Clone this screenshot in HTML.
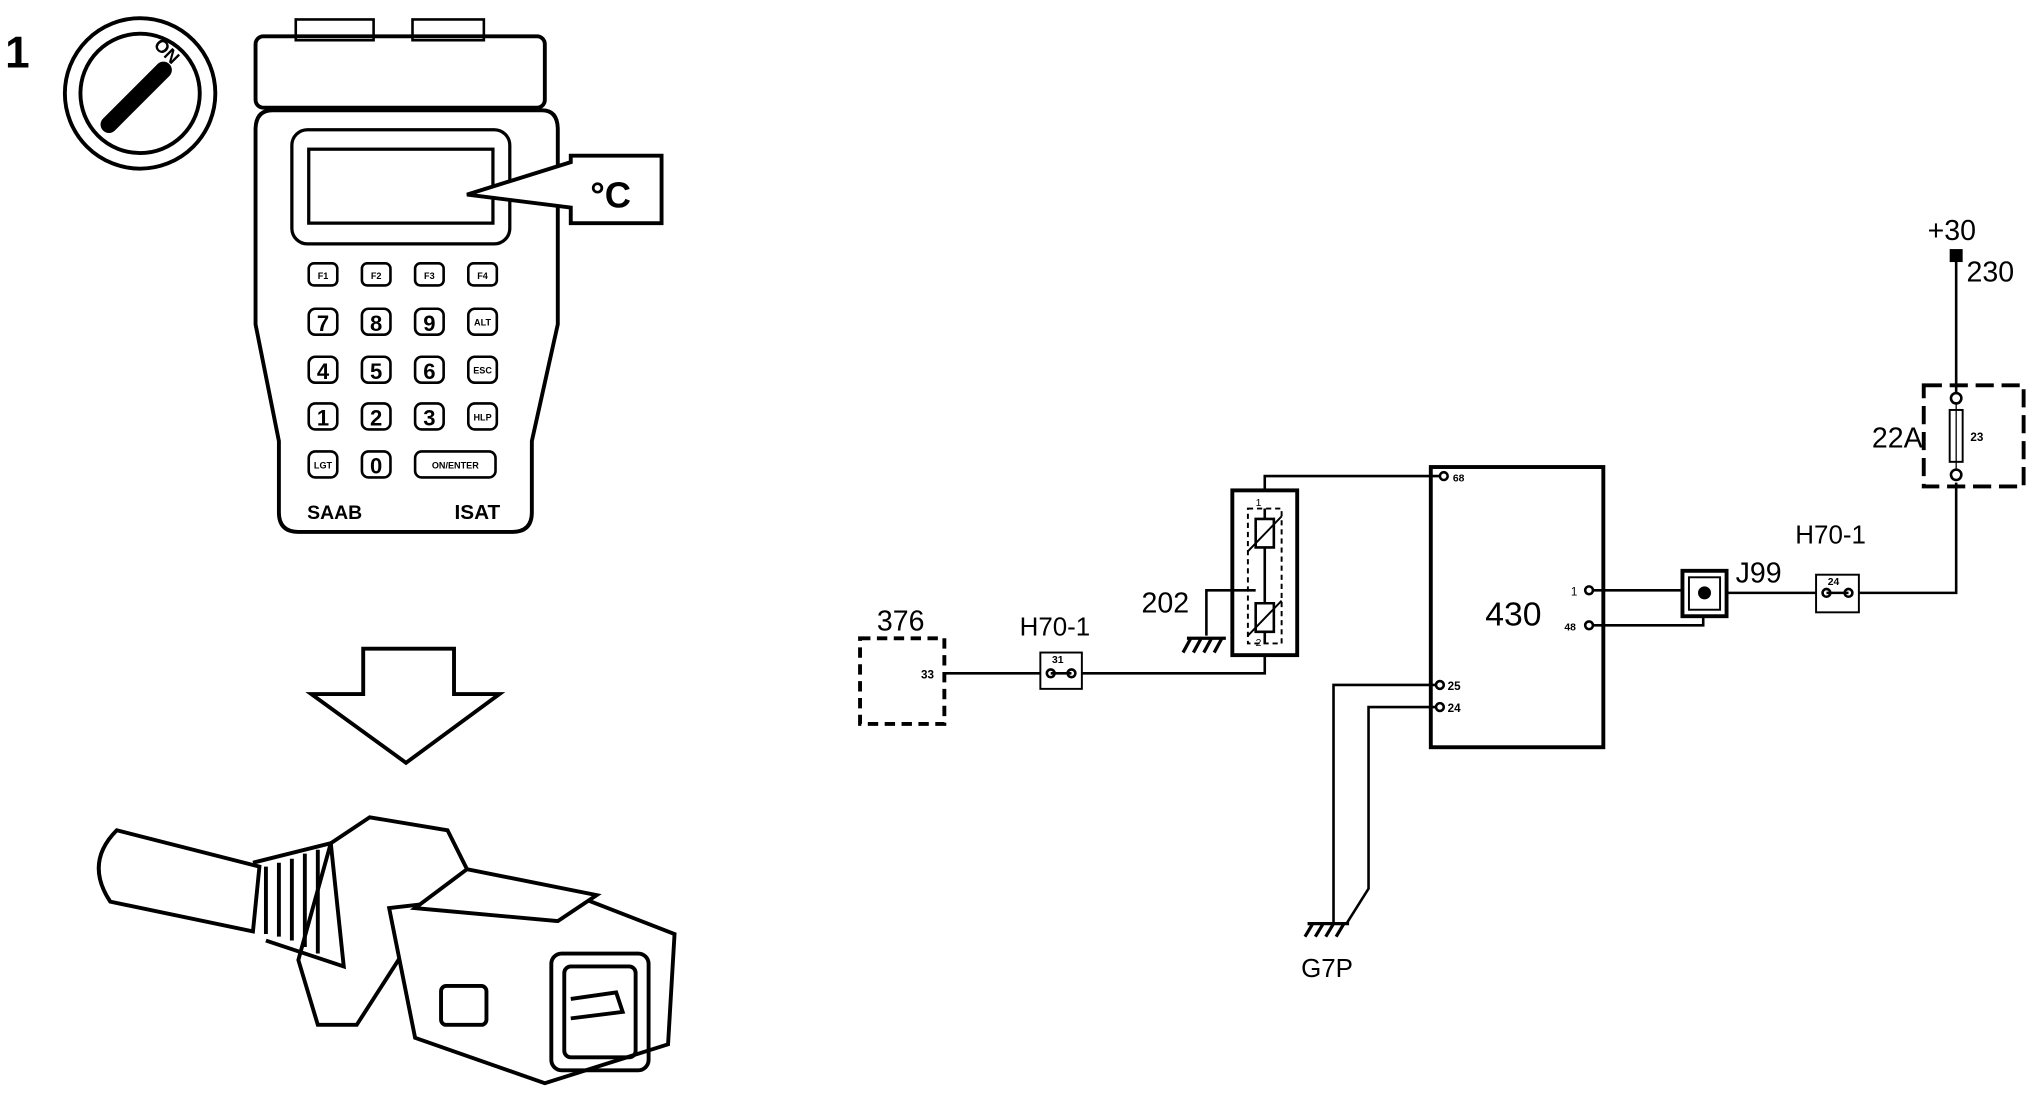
<!DOCTYPE html>
<html><head><meta charset="utf-8"><style>
html,body{margin:0;padding:0;background:#fff;}
svg{display:block}
text{font-family:"Liberation Sans",sans-serif;fill:#000}
</style></head><body>
<svg width="2034" height="1104" viewBox="0 0 1568 851" preserveAspectRatio="none" xmlns="http://www.w3.org/2000/svg">
<g stroke="#000" fill="none" stroke-width="2">
<text x="4" y="52" font-size="34" font-weight="bold" stroke="none">1</text>
<circle cx="108" cy="72" r="58" stroke-width="3"/>
<circle cx="108" cy="72" r="46" stroke-width="3"/>
<line x1="84" y1="96" x2="126" y2="54" stroke-width="13" stroke-linecap="round"/>
<text x="128" y="44" font-size="14" font-weight="bold" stroke="none" text-anchor="middle" transform="rotate(45 128 40)">ON</text>
<rect x="197" y="28" width="223" height="55" rx="6" stroke-width="3"/>
<rect x="228" y="15" width="60" height="16" stroke-width="2"/>
<rect x="318" y="15" width="55" height="16" stroke-width="2"/>
<path d="M210 85 H418 Q430 85 430 100 V250 L410 340 V395 Q410 410 395 410 H230 Q215 410 215 395 V340 L197 250 V100 Q197 85 210 85 Z" stroke-width="3"/>
<rect x="225" y="100" width="168" height="88" rx="12" stroke-width="2.5"/>
<rect x="238" y="115" width="142" height="57" stroke-width="2.5"/>
<path d="M360 150 L440 125 V120 H510 V172 H440 V160 Z" stroke-width="3" fill="#fff"/>
<text x="455" y="160" font-size="28" font-weight="bold" stroke="none">°C</text>
<g stroke-width="2">
<rect x="238" y="203" width="22" height="17" rx="4"/><rect x="279" y="203" width="22" height="17" rx="4"/><rect x="320" y="203" width="22" height="17" rx="4"/><rect x="361" y="203" width="22" height="17" rx="4"/>
<rect x="238" y="238" width="22" height="20" rx="5"/><rect x="279" y="238" width="22" height="20" rx="5"/><rect x="320" y="238" width="22" height="20" rx="5"/><rect x="361" y="238" width="22" height="20" rx="5"/>
<rect x="238" y="275" width="22" height="20" rx="5"/><rect x="279" y="275" width="22" height="20" rx="5"/><rect x="320" y="275" width="22" height="20" rx="5"/><rect x="361" y="275" width="22" height="20" rx="5"/>
<rect x="238" y="311" width="22" height="20" rx="5"/><rect x="279" y="311" width="22" height="20" rx="5"/><rect x="320" y="311" width="22" height="20" rx="5"/><rect x="361" y="311" width="22" height="20" rx="5"/>
<rect x="238" y="348" width="22" height="20" rx="5"/><rect x="279" y="348" width="22" height="20" rx="5"/><rect x="320" y="348" width="62" height="20" rx="5"/>
</g>
<g stroke="none" font-weight="bold" text-anchor="middle">
<text x="249" y="215" font-size="7">F1</text><text x="290" y="215" font-size="7">F2</text><text x="331" y="215" font-size="7">F3</text><text x="372" y="215" font-size="7">F4</text>
<text x="249" y="255" font-size="17">7</text><text x="290" y="255" font-size="17">8</text><text x="331" y="255" font-size="17">9</text><text x="372" y="251" font-size="7">ALT</text>
<text x="249" y="292" font-size="17">4</text><text x="290" y="292" font-size="17">5</text><text x="331" y="292" font-size="17">6</text><text x="372" y="288" font-size="7">ESC</text>
<text x="249" y="328" font-size="17">1</text><text x="290" y="328" font-size="17">2</text><text x="331" y="328" font-size="17">3</text><text x="372" y="324" font-size="7">HLP</text>
<text x="249" y="361" font-size="7">LGT</text><text x="290" y="365" font-size="17">0</text><text x="351" y="361" font-size="7">ON/ENTER</text>
<text x="258" y="400" font-size="15">SAAB</text><text x="368" y="400" font-size="16">ISAT</text>
</g>
<path d="M280 500 H350 V535 H385 L313 588 L240 535 H280 Z" stroke-width="3"/>
<g stroke-width="3">
<path d="M90 640 L200 668 L195 718 L85 695 Q65 665 90 640 Z"/>
<path d="M195 665 L255 650 L265 745 L205 725"/>
<path d="M205 668 V720 M215 665 V722 M225 662 V725 M235 658 V730 M245 655 V735"/>
<path d="M255 650 L285 630 L345 640 L370 690 L320 720 L275 790 L245 790 L230 740 Z"/>
<path d="M300 700 L430 685 L520 720 L515 805 L420 835 L320 800 Z" fill="#fff"/>
<path d="M320 700 L360 670 L460 690 L430 710 Z" fill="#fff"/>
<rect x="425" y="735" width="75" height="90" rx="8"/>
<rect x="435" y="745" width="55" height="70" rx="5"/>
<path d="M440 770 L475 765 L480 780 L440 785"/>
<rect x="340" y="760" width="35" height="30" rx="4"/>
</g>
</g>
<g stroke="#000" fill="none" stroke-width="2">
<rect x="663" y="492" width="65" height="66" stroke-width="3" stroke-dasharray="8,5"/>
<line x1="728" y1="519" x2="802" y2="519"/>
<rect x="802" y="503" width="32" height="28" stroke-width="1.5"/>
<circle cx="810" cy="519" r="3"/><circle cx="826" cy="519" r="3"/><line x1="810" y1="519" x2="826" y2="519"/>
<polyline points="834,519 975,519 975,505"/>
<rect x="950" y="378" width="50" height="127" stroke-width="3"/>
<polyline points="975,378 975,367 1110,367"/>
<rect x="962" y="392" width="26" height="104" stroke-width="1.5" stroke-dasharray="4,3"/>
<path d="M975 392 V400 M968 400 h14 v22 h-14 z M975 422 V465 M968 465 h14 v22 h-14 z M975 487 V496"/>
<path d="M962 425 L988 398 M962 490 L988 463" stroke-width="1.5"/>
<polyline points="968,455 930,455 930,490"/>
<path d="M915 492 H945 M918 492 L912 503 M926 492 L920 503 M934 492 L928 503 M942 492 L936 503" stroke-width="2.5"/>
<rect x="1103" y="360" width="133" height="216" stroke-width="3"/>
<circle cx="1113" cy="367" r="3"/><circle cx="1225" cy="455" r="3"/><circle cx="1225" cy="482" r="3"/><circle cx="1110" cy="528" r="3"/><circle cx="1110" cy="545" r="3"/>
<polyline points="1228,455 1297,455"/>
<polyline points="1228,482 1313,482 1313,475"/>
<rect x="1297" y="440" width="34" height="35" stroke-width="3"/>
<rect x="1302" y="445" width="24" height="25" stroke-width="1.5"/>
<circle cx="1314" cy="457" r="4" fill="#000"/>
<line x1="1331" y1="457" x2="1400" y2="457"/>
<rect x="1400" y="443" width="33" height="29" stroke-width="1.5"/>
<circle cx="1408" cy="457" r="3"/><circle cx="1425" cy="457" r="3"/><line x1="1408" y1="457" x2="1425" y2="457"/>
<polyline points="1433,457 1508,457 1508,372"/>
<rect x="1483" y="297" width="77" height="78" stroke-width="3" stroke-dasharray="14,6"/>
<circle cx="1508" cy="307" r="4"/><circle cx="1508" cy="366" r="4"/>
<rect x="1503" y="316" width="10" height="40" stroke-width="1.5"/>
<line x1="1508" y1="311" x2="1508" y2="362" stroke-width="1"/>
<line x1="1508" y1="303" x2="1508" y2="200"/>
<rect x="1504" y="193" width="8" height="8" fill="#000"/>
<polyline points="1107,528 1028,528 1028,712"/>
<polyline points="1107,545 1055,545 1055,685 1038,712"/>
<path d="M1008 712 H1040 M1012 712 L1006 722 M1020 712 L1014 722 M1028 712 L1022 722 M1036 712 L1030 722" stroke-width="2.5"/>
</g>
<g stroke="none">
<text x="676" y="486" font-size="22">376</text>
<text x="710" y="523" font-size="9" font-weight="bold">33</text>
<text x="786" y="490" font-size="20">H70-1</text>
<text x="811" y="511" font-size="8" font-weight="bold">31</text>
<text x="880" y="472" font-size="22">202</text>
<text x="968" y="390" font-size="8">1</text>
<text x="968" y="498" font-size="8">2</text>
<text x="1120" y="371" font-size="8" font-weight="bold">68</text>
<text x="1145" y="482" font-size="26">430</text>
<text x="1211" y="459" font-size="9">1</text>
<text x="1206" y="486" font-size="8" font-weight="bold">48</text>
<text x="1116" y="532" font-size="9" font-weight="bold">25</text>
<text x="1116" y="549" font-size="9" font-weight="bold">24</text>
<text x="1338" y="449" font-size="22">J99</text>
<text x="1384" y="419" font-size="20">H70-1</text>
<text x="1409" y="451" font-size="8" font-weight="bold">24</text>
<text x="1443" y="345" font-size="22">22A</text>
<text x="1519" y="340" font-size="9" font-weight="bold">23</text>
<text x="1486" y="185" font-size="22">+30</text>
<text x="1516" y="217" font-size="22">230</text>
<text x="1003" y="753" font-size="20">G7P</text>
</g>
</svg>
</body></html>
